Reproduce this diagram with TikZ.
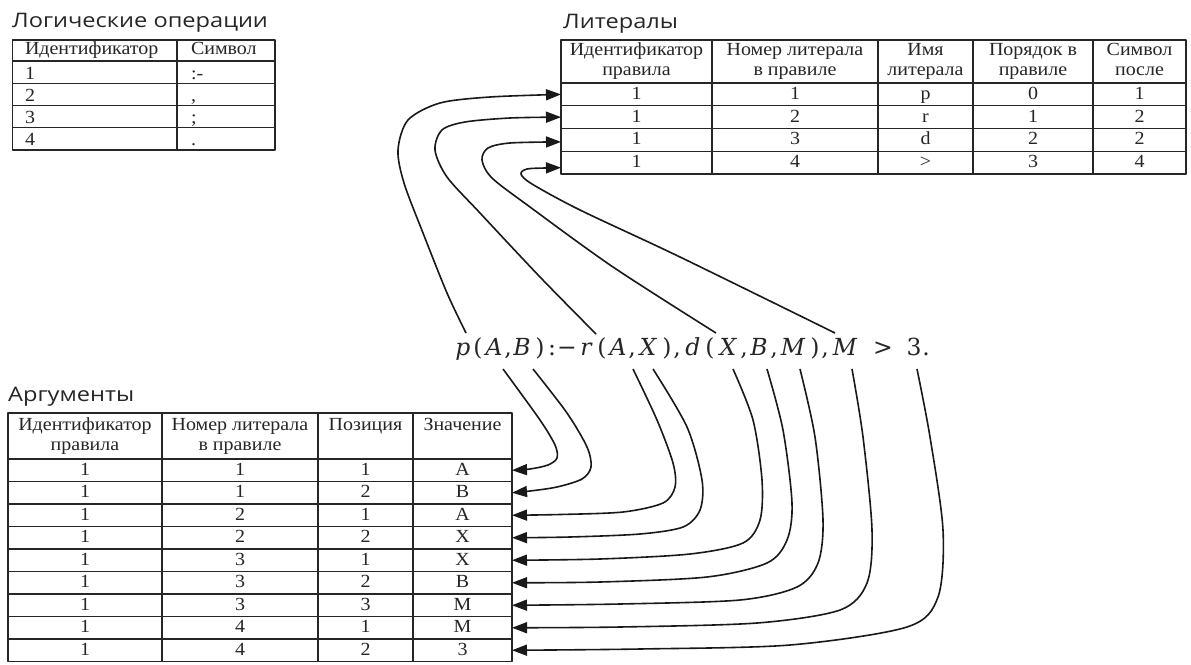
\documentclass[tikz,border=0pt]{standalone}
\usepackage[no-math]{fontspec}
\setmainfont{Liberation Serif}[FakeStretch=1.08]
\newfontfamily\titlefont[FakeStretch=1.18]{Open Sans}
\newfontfamily\formfont{DejaVu Serif}
\usetikzlibrary{arrows.meta,calc}
\newcommand\tfont{\fontsize{18.5}{20}\selectfont}
\newcommand\hd[2]{\strut #1\\\strut #2}
\tikzset{
  tline/.style={draw=black!85, line width=1.4},
  hcell/.style={tline, anchor=north west, inner sep=0, outer sep=0, align=center, font=\tfont, text=black!85},
  dcell/.style={hcell, text height=13, text depth=3},
  lcell/.style={tline, anchor=north west, inner sep=0, outer sep=0, align=left, font=\tfont, text=black!85},
  ttl/.style={anchor=base west, inner sep=0, font=\titlefont\fontsize{20}{24}\selectfont, text=black!85},
  glyph/.style={anchor=base, inner sep=0, font=\formfont\fontsize{23.5}{28}\selectfont, text=black!85},
  iglyph/.style={glyph, font=\formfont\fontsize{23.5}{28}\selectfont\itshape},
  conn/.style={draw=black!90, line width=1.6, -{Triangle[length=15,width=11]}},
}
\begin{document}
\begin{tikzpicture}[x=1pt, y=-1pt, line join=round]
\fill[white] (0,0) rectangle (1191,664);
\useasboundingbox (0,0) rectangle (1191,664);

% titles
\node[ttl] (tLog) at (12,27) {Логические операции};
\node[ttl] (tLit) at (563,28) {Литералы};
\node[ttl] (tArg) at (8,401) {Аргументы};

% logic table
\node[lcell, minimum width=164.5, minimum height=21, text width=139.5, text height=12, text depth=4] (log0-1) at (12.5,40) {Идентификатор};
\node[lcell, minimum width=98, minimum height=21, text width=70, text height=12, text depth=4] (log0-2) at (177,40) {Символ};
\foreach \k/\a/\b in {1/1/{:-}, 2/2/{,}, 3/3/{;}, 4/4/{.}} {
  \pgfmathsetmacro\yy{61+22.25*(\k-1)}
  \node[lcell, minimum width=164.5, minimum height=22.25, text width=139.5, text height=15, text depth=1] (log\k-1) at (12.5,\yy) {\a};
  \node[lcell, minimum width=98, minimum height=22.25, text width=70, text height=15, text depth=1] (log\k-2) at (177,\yy) {\b};
}

% literals table
\node[hcell, minimum width=151, minimum height=43] (lit0-1) at (561,40) {\hd{Идентификатор}{правила}};
\node[hcell, minimum width=166, minimum height=43] (lit0-2) at (712,40) {\hd{Номер литерала}{в правиле}};
\node[hcell, minimum width=95, minimum height=43] (lit0-3) at (878,40) {\hd{Имя}{литерала}};
\node[hcell, minimum width=120, minimum height=43] (lit0-4) at (973,40) {\hd{Порядок в}{правиле}};
\node[hcell, minimum width=93, minimum height=43] (lit0-5) at (1093,40) {\hd{Символ}{после}};
\foreach \k/\a/\b/\c/\d/\e in {1/1/1/p/0/1, 2/1/2/r/1/2, 3/1/3/d/2/2, 4/1/4/{>}/3/4} {
  \pgfmathsetmacro\yy{83+22.75*(\k-1)}
  \node[dcell, minimum width=151, minimum height=22.75] (lit\k-1) at (561,\yy) {\a};
  \node[dcell, minimum width=166, minimum height=22.75] (lit\k-2) at (712,\yy) {\b};
  \node[dcell, minimum width=95, minimum height=22.75] (lit\k-3) at (878,\yy) {\c};
  \node[dcell, minimum width=120, minimum height=22.75] (lit\k-4) at (973,\yy) {\d};
  \node[dcell, minimum width=93, minimum height=22.75] (lit\k-5) at (1093,\yy) {\e};
}

% arguments table
\node[hcell, minimum width=154, minimum height=46] (arg0-1) at (8,413) {\hd{Идентификатор}{правила}};
\node[hcell, minimum width=156, minimum height=46] (arg0-2) at (162,413) {\hd{Номер литерала}{в правиле}};
\node[hcell, minimum width=95, minimum height=46] (arg0-3) at (318,413) {\hd{Позиция}{}};
\node[hcell, minimum width=99, minimum height=46] (arg0-4) at (413,413) {\hd{Значение}{}};
\foreach \k/\a/\b/\c/\d in {1/1/1/1/A, 2/1/1/2/B, 3/1/2/1/A, 4/1/2/2/X, 5/1/3/1/X, 6/1/3/2/B, 7/1/3/3/M, 8/1/4/1/M, 9/1/4/2/3} {
  \pgfmathsetmacro\yy{459+22.5*(\k-1)}
  \node[dcell, minimum width=154, minimum height=22.5] (arg\k-1) at (8,\yy) {\a};
  \node[dcell, minimum width=156, minimum height=22.5] (arg\k-2) at (162,\yy) {\b};
  \node[dcell, minimum width=95, minimum height=22.5] (arg\k-3) at (318,\yy) {\c};
  \node[dcell, minimum width=99, minimum height=22.5] (arg\k-4) at (413,\yy) {\d};
}

% formula  p(A,B):-r(A,X),d(X,B,M),M > 3.
\node[iglyph] (fp) at (463,355) {p};
\node[glyph] (fl1) at (478,355) {(};
\node[iglyph] (fA1) at (494,355) {A};
\node[glyph] (fc1) at (508,355) {,};
\node[iglyph] (fB1) at (522,355) {B};
\node[glyph] (fr1) at (540,355) {)};
\node[glyph] (fcol) at (552,355) {:};
\node[glyph] (fmin) at (567,355) {−};
\node[iglyph] (fr) at (586,355) {r};
\node[glyph] (fl2) at (602,355) {(};
\node[iglyph] (fA2) at (618,355) {A};
\node[glyph] (fc2) at (632,355) {,};
\node[iglyph] (fX1) at (648,355) {X};
\node[glyph] (fr2) at (667,355) {)};
\node[glyph] (fc3) at (677,355) {,};
\node[iglyph] (fd) at (693,355) {d};
\node[glyph] (fl3) at (710,355) {(};
\node[iglyph] (fX2) at (728,355) {X};
\node[glyph] (fc4) at (744,355) {,};
\node[iglyph] (fB2) at (759,355) {B};
\node[glyph] (fc5) at (774,355) {,};
\node[iglyph] (fM1) at (793,355) {M};
\node[glyph] (fr3) at (815,355) {)};
\node[glyph] (fc6) at (825,355) {,};
\node[iglyph] (fM2) at (845,355) {M};
\node[glyph] (fgt) at (883,355) {>};
\node[glyph] (f3) at (914,355) {3};
\node[glyph] (fdot) at (926,355) {.};

% connector ends at the formula
\coordinate (up1) at (466,333);
\coordinate (up2) at (596,334);
\coordinate (up3) at (716,333);
\coordinate (up4) at (835,333);
\coordinate (dn1) at (503,369);
\coordinate (dn2) at (533,369);
\coordinate (dn3) at (633,369);
\coordinate (dn4) at (653,369);
\coordinate (dn5) at (733,369);
\coordinate (dn6) at (767,369);
\coordinate (dn7) at (800,369);
\coordinate (dn8) at (852,369);
\coordinate (dn9) at (917,369);

% connectors to literals
\draw[conn] plot[smooth] coordinates {(up1) (447,293) (423,233) (404,183) (398,150) (408,120) (440,103) (490,97) (lit1-1.west)};
\draw[conn] plot[smooth] coordinates {(up2) (540,277) (480,213) (447,177) (435,150) (442,130) (465,122) (510,118) (lit2-1.west)};
\draw[conn] plot[smooth] coordinates {(up3) (613,267) (530,207) (492,178) (482,160) (488,148) (510,143) ($(lit3-1.west)+(0,2)$)};
\draw[conn] plot[smooth] coordinates {(up4) (680,257) (580,210) (532,184) (521,174) (527,169) (545,168) ($(lit4-1.west)+(0,5)$)};

% connectors to arguments
\draw[conn] plot[smooth] coordinates {(dn1) (540,420) (555,445) (557,458) (548,465) (530,469) (arg1-4.east)};
\draw[conn] plot[smooth] coordinates {(dn2) (567,413) (587,447) (591,467) (582,479) (557,487) (530,491) (arg2-4.east)};
\draw[conn] plot[smooth] coordinates {(dn3) (657,420) (673,463) (675,487) (663,503) (623,512) (560,514.5) (arg3-4.east)};
\draw[conn] plot[smooth] coordinates {(dn4) (687,427) (702,480) (700,510) (683,527) (640,534) (570,537) (arg4-4.east)};
\draw[conn] plot[smooth] coordinates {(dn5) (753,420) (762,480) (760,520) (743,543) (690,554) (600,559) (arg5-4.east)};
\draw[conn] plot[smooth] coordinates {(dn6) (783,430) (792,503) (787,540) (767,563) (707,577) (600,582) (arg6-4.east)};
\draw[conn] plot[smooth] coordinates {(dn7) (815,437) (823,520) (818,563) (797,587) (740,600) (620,604) (arg7-4.east)};
\draw[conn] plot[smooth] coordinates {(dn8) (863,437) (872,530) (867,583) (840,610) (757,623) (620,627) (arg8-4.east)};
\draw[conn] plot[smooth] coordinates {(dn9) (930,437) (943,530) (938,597) (907,627) (790,645) (640,649) (arg9-4.east)};
\end{tikzpicture}
\end{document}
